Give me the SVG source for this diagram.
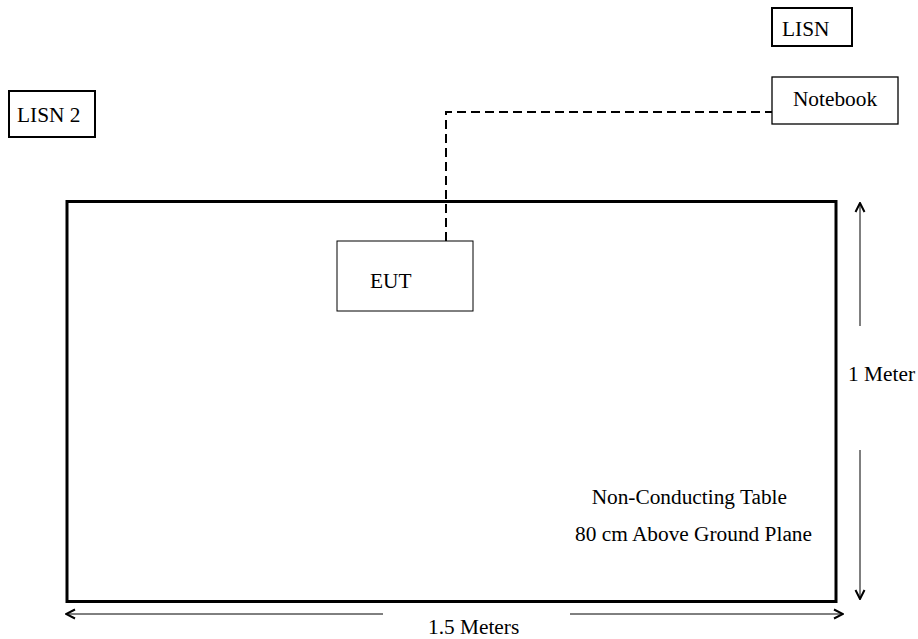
<svg xmlns="http://www.w3.org/2000/svg" width="918" height="639" viewBox="0 0 918 639">
<defs>
<style>
text{font-family:"Liberation Serif","Times New Roman",serif;font-size:21.33px;fill:#000}
.box{fill:#fff;stroke:#000}
.dim{stroke:#000;stroke-width:1;fill:none}
</style>
<marker id="ah" viewBox="0 0 12 12" refX="11" refY="6" markerWidth="12" markerHeight="12" markerUnits="userSpaceOnUse" orient="auto">
<polyline points="2,1.5 11,6 2,10.5" fill="none" stroke="#000" stroke-width="2"/>
</marker>
</defs>
<g id="table"><rect x="67" y="201.5" width="769" height="400" fill="none" stroke="#000" stroke-width="3"/>
<text x="787" y="504" text-anchor="end">Non-Conducting Table</text>
<text x="812" y="541" text-anchor="end">80 cm Above Ground Plane</text></g>
<g id="lisn"><rect class="box" x="772" y="8" width="80" height="38" stroke-width="2"/><text x="782" y="36">LISN</text></g>
<g id="notebook"><rect class="box" x="772" y="77" width="126" height="47" stroke-width="1.3"/><text x="835" y="106" text-anchor="middle">Notebook</text></g>
<g id="lisn2"><rect class="box" x="9" y="91" width="86" height="46" stroke-width="2"/><text x="17" y="122">LISN 2</text></g>
<g id="eut"><rect class="box" x="337" y="241" width="136" height="70" stroke-width="1"/><text x="370" y="288">EUT</text></g>
<g id="connectors">
<polyline points="446,241 446,112 772,112" fill="none" stroke="#000" stroke-width="2" stroke-dasharray="9,5"/>
<line class="dim" x1="860" y1="326" x2="860" y2="203" marker-end="url(#ah)"/>
<line class="dim" x1="860" y1="450" x2="860" y2="599" marker-end="url(#ah)"/>
<line class="dim" x1="383" y1="614" x2="66" y2="614" marker-end="url(#ah)"/>
<line class="dim" x1="570" y1="614" x2="843" y2="614" marker-end="url(#ah)"/>
</g>
<text x="915" y="381" text-anchor="end">1 Meter</text>
<text x="428" y="634">1.5 Meters</text>
</svg>
